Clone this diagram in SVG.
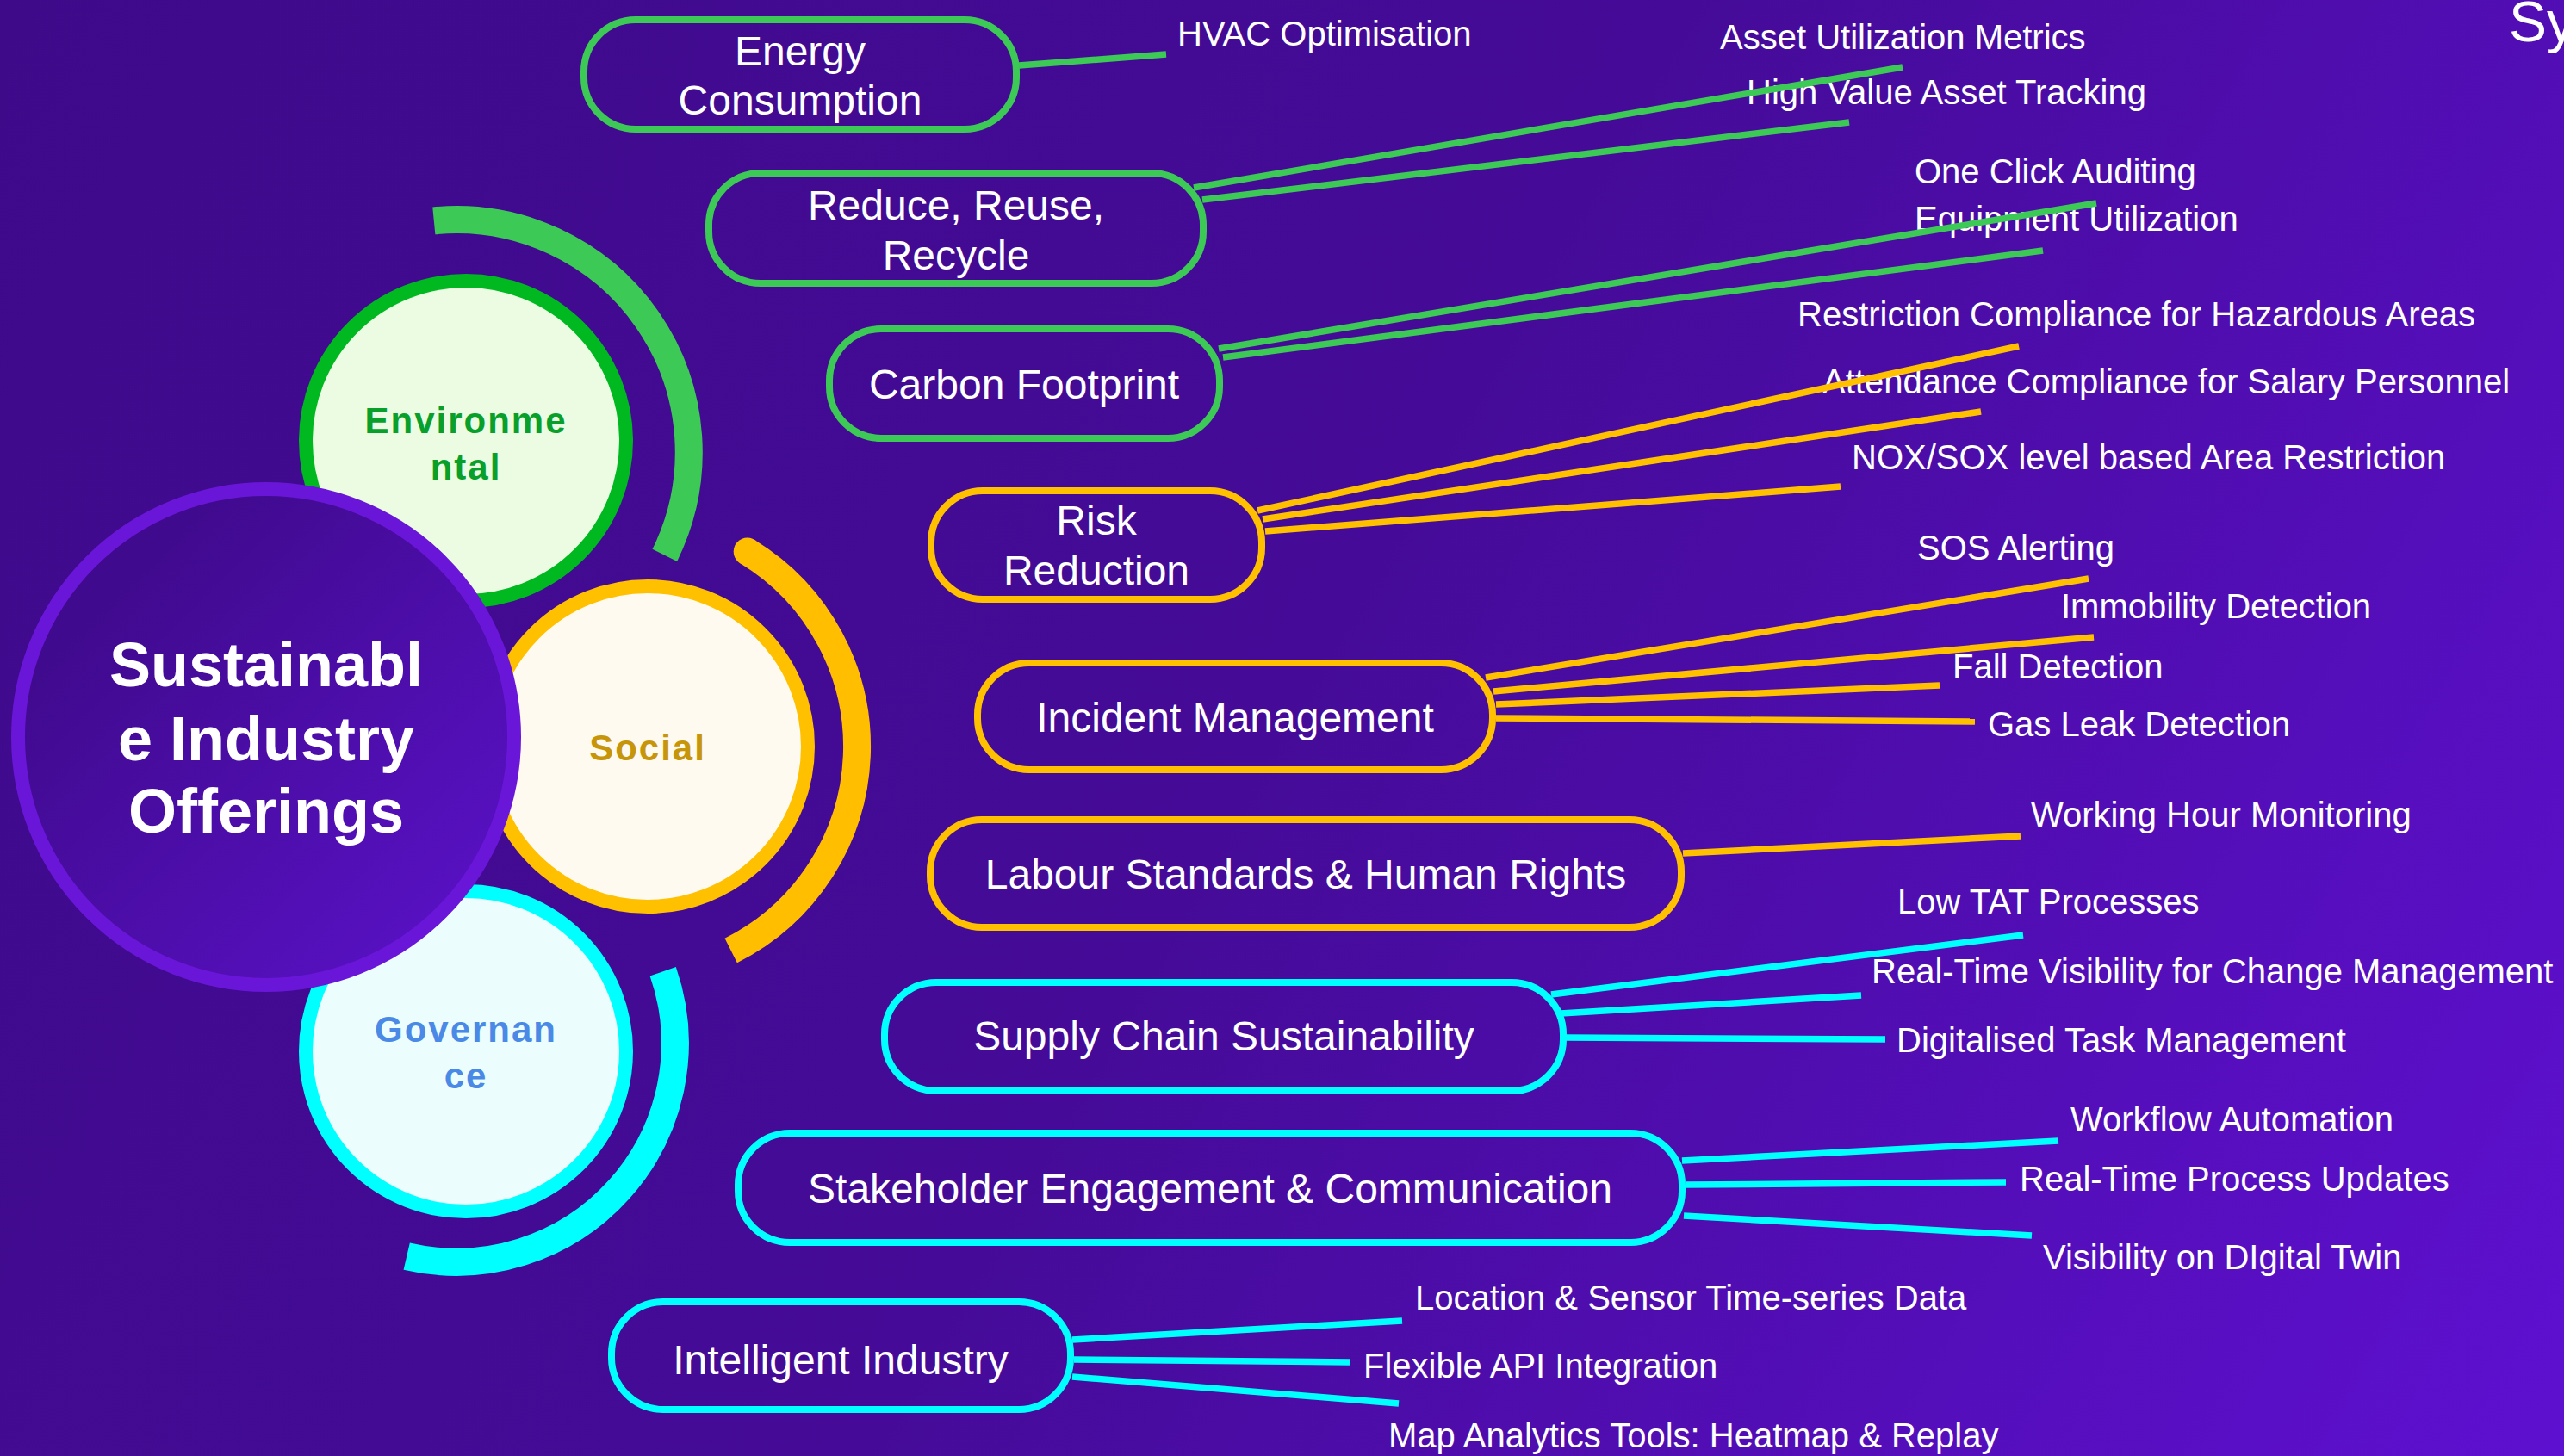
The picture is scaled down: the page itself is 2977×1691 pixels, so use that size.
<svg xmlns="http://www.w3.org/2000/svg" width="2977" height="1691" viewBox="0 0 2977 1691">
<defs>
<linearGradient id="bg" gradientUnits="userSpaceOnUse" x1="0" y1="0" x2="2977" y2="1691">
<stop offset="0" stop-color="#3e0a8a"/>
<stop offset="0.5" stop-color="#450b98"/>
<stop offset="1" stop-color="#5e10d0"/>
</linearGradient>
<linearGradient id="mainfill" x1="0.2" y1="0.2" x2="1" y2="1">
<stop offset="0" stop-color="#400a8e"/>
<stop offset="1" stop-color="#5c12cc"/>
</linearGradient>
<style>
.pill{fill:none;stroke-width:8}
.gS{stroke:#3cc955}.oS{stroke:#ffc000}.cS{stroke:#00ffff}
.pt{font-family:"Liberation Sans",Arial,sans-serif;font-size:48px;fill:#ffffff;text-anchor:middle}
.lt{font-family:"Liberation Sans",Arial,sans-serif;font-size:40px;fill:#ffffff}
.ct{font-family:"Liberation Sans",Arial,sans-serif;font-size:42px;font-weight:bold;letter-spacing:2px;text-anchor:middle}
.arc{fill:none;stroke-width:32}
#connectors line{stroke-width:7.5}
</style>
</defs>
<rect x="0" y="0" width="2977" height="1691" fill="url(#bg)"/>
<text x="2913" y="48" font-family="Liberation Sans, Arial, sans-serif" font-size="66" fill="#ffffff">Sy</text>

<g id="arcs">
<path class="arc" stroke="#3cc955" d="M503.8,256.4 A270,270 0 0 1 771.8,644.8"/>
<path class="arc" stroke="#ffbf00" d="M867.7,640.6 A265,265 0 0 1 848.7,1104"/>
<circle cx="867.7" cy="640.6" r="16" fill="#ffbf00"/>
<path class="arc" stroke="#00ffff" d="M769.7,1128.2 A254,254 0 0 1 472.2,1459.1"/>
</g>

<g id="environmental">
<circle cx="541" cy="512" r="186" fill="#ebfce3" stroke="#00b81f" stroke-width="16"/>
<text class="ct" x="541" y="503" fill="#08a02a">Environme</text>
<text class="ct" x="541" y="557" fill="#08a02a">ntal</text>
</g>
<g id="social">
<circle cx="752" cy="867" r="186" fill="#fffaef" stroke="#ffc000" stroke-width="16"/>
<text class="ct" x="752" y="883" fill="#c7950a">Social</text>
</g>
<g id="governance">
<circle cx="541" cy="1221" r="186" fill="#ebfefd" stroke="#00ffff" stroke-width="16"/>
<text class="ct" x="541" y="1210" fill="#4a8ae6">Governan</text>
<text class="ct" x="541" y="1264" fill="#4a8ae6">ce</text>
</g>
<g id="main">
<circle cx="309" cy="856" r="288" fill="url(#mainfill)" stroke="#6a16d8" stroke-width="16"/>
<g font-family="Liberation Sans, Arial, sans-serif" font-size="72" font-weight="bold" fill="#ffffff" text-anchor="middle">
<text x="309" y="797">Sustainabl</text>
<text x="309" y="883">e Industry</text>
<text x="309" y="967">Offerings</text>
</g>
</g>

<g id="energy"><rect class="pill gS" x="678" y="23" width="502" height="127" rx="60" ry="60"/><text class="pt" x="929" y="76">Energy</text><text class="pt" x="929" y="133">Consumption</text></g>
<g id="reduce"><rect class="pill gS" x="823" y="201" width="574" height="128" rx="60" ry="60"/><text class="pt" x="1110" y="255">Reduce, Reuse,</text><text class="pt" x="1110" y="313">Recycle</text></g>
<g id="carbon"><rect class="pill gS" x="963" y="382" width="453" height="127" rx="60" ry="60"/><text class="pt" x="1189" y="463">Carbon Footprint</text></g>
<g id="risk"><rect class="pill oS" x="1081" y="570" width="384" height="126" rx="60" ry="60"/><text class="pt" x="1273" y="621">Risk</text><text class="pt" x="1273" y="679">Reduction</text></g>
<g id="incident"><rect class="pill oS" x="1135" y="770" width="598" height="124" rx="60" ry="60"/><text class="pt" x="1434" y="850">Incident Management</text></g>
<g id="labour"><rect class="pill oS" x="1080" y="952" width="872" height="125" rx="60" ry="60"/><text class="pt" x="1516" y="1032">Labour Standards &amp; Human Rights</text></g>
<g id="supply"><rect class="pill cS" x="1027" y="1141" width="788" height="126" rx="60" ry="60"/><text class="pt" x="1421" y="1220">Supply Chain Sustainability</text></g>
<g id="stakeholder"><rect class="pill cS" x="857" y="1316" width="1096" height="127" rx="60" ry="60"/><text class="pt" x="1405" y="1397">Stakeholder Engagement &amp; Communication</text></g>
<g id="intelligent"><rect class="pill cS" x="710" y="1512" width="533" height="125" rx="60" ry="60"/><text class="pt" x="976" y="1596">Intelligent Industry</text></g>

<g id="leaf-hvac"><text class="lt" x="1367" y="53">HVAC Optimisation</text></g>
<g id="leaf-asset-util"><text class="lt" x="1997" y="57">Asset Utilization Metrics</text></g>
<g id="leaf-high-value"><text class="lt" x="2028" y="121">High Value Asset Tracking</text></g>
<g id="leaf-one-click"><text class="lt" x="2223" y="213">One Click Auditing</text></g>
<g id="leaf-equipment"><text class="lt" x="2223" y="268">Equipment Utilization</text></g>
<g id="leaf-restriction"><text class="lt" x="2087" y="379">Restriction Compliance for Hazardous Areas</text></g>
<g id="leaf-attendance"><text class="lt" x="2116" y="457">Attendance Compliance for Salary Personnel</text></g>
<g id="leaf-nox"><text class="lt" x="2150" y="545">NOX/SOX level based Area Restriction</text></g>
<g id="leaf-sos"><text class="lt" x="2226" y="650">SOS Alerting</text></g>
<g id="leaf-immobility"><text class="lt" x="2393" y="718">Immobility Detection</text></g>
<g id="leaf-fall"><text class="lt" x="2267" y="788">Fall Detection</text></g>
<g id="leaf-gas"><text class="lt" x="2308" y="855">Gas Leak Detection</text></g>
<g id="leaf-working"><text class="lt" x="2358" y="960">Working Hour Monitoring</text></g>
<g id="leaf-low-tat"><text class="lt" x="2203" y="1061">Low TAT Processes</text></g>
<g id="leaf-rt-visibility"><text class="lt" x="2173" y="1142">Real-Time Visibility for Change Management</text></g>
<g id="leaf-digitalised"><text class="lt" x="2202" y="1222">Digitalised Task Management</text></g>
<g id="leaf-workflow"><text class="lt" x="2404" y="1314">Workflow Automation</text></g>
<g id="leaf-rt-process"><text class="lt" x="2345" y="1383">Real-Time Process Updates</text></g>
<g id="leaf-twin"><text class="lt" x="2372" y="1474">Visibility on DIgital Twin</text></g>
<g id="leaf-location"><text class="lt" x="1643" y="1521">Location &amp; Sensor Time-series Data</text></g>
<g id="leaf-api"><text class="lt" x="1583" y="1600">Flexible API Integration</text></g>
<g id="leaf-map"><text class="lt" x="1612" y="1681">Map Analytics Tools: Heatmap &amp; Replay</text></g>

<g id="connectors">
<g stroke="#3cc955">
<line x1="1183" y1="76" x2="1354" y2="63"/>
<line x1="1386" y1="218" x2="2209" y2="78"/>
<line x1="1396" y1="232" x2="2147" y2="142"/>
<line x1="1415" y1="405" x2="2434" y2="236"/>
<line x1="1420" y1="415" x2="2372" y2="291"/>
</g>
<g stroke="#ffc000">
<line x1="1460" y1="593" x2="2344" y2="402"/>
<line x1="1466" y1="603" x2="2300" y2="478"/>
<line x1="1469" y1="617" x2="2137" y2="565"/>
<line x1="1725" y1="787" x2="2425" y2="672"/>
<line x1="1734" y1="803" x2="2431" y2="740"/>
<line x1="1737" y1="818" x2="2252" y2="796"/>
<line x1="1737" y1="834" x2="2293" y2="838"/>
<line x1="1954" y1="991" x2="2346" y2="971"/>
</g>
<g stroke="#00ffff">
<line x1="1801" y1="1155" x2="2349" y2="1086"/>
<line x1="1812" y1="1177" x2="2161" y2="1156"/>
<line x1="1817" y1="1205" x2="2189" y2="1207"/>
<line x1="1953" y1="1348" x2="2390" y2="1325"/>
<line x1="1957" y1="1376" x2="2329" y2="1373"/>
<line x1="1955" y1="1412" x2="2359" y2="1435"/>
<line x1="1245" y1="1556" x2="1628" y2="1534"/>
<line x1="1247" y1="1579" x2="1567" y2="1582"/>
<line x1="1245" y1="1599" x2="1624" y2="1630"/>
</g>
</g>
</svg>
